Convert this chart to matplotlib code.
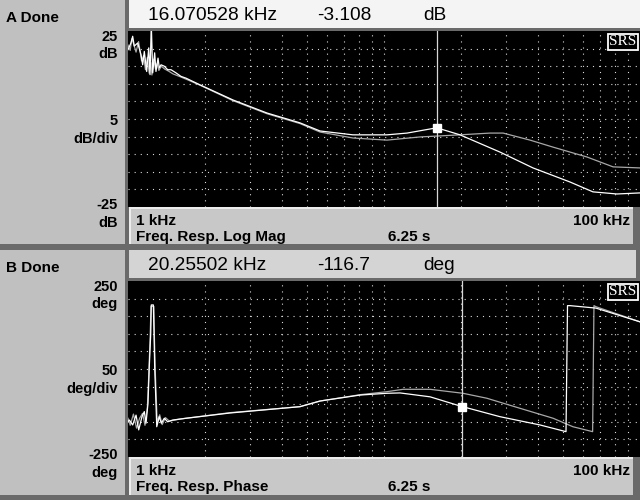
import numpy as np
import matplotlib.pyplot as plt
from matplotlib.patches import Rectangle

# trace A: Freq. Resp. Log Mag (dB), live trace (white) and reference trace (grey)
mag_freq_live = [1.0, 1.027, 1.043, 1.058, 1.091, 1.124, 1.141, 1.158, 1.183, 1.205, 1.219, 1.233,
                 1.249, 1.271, 1.286, 1.310, 1.325, 1.346, 1.386, 1.429, 1.472, 1.540, 1.611, 1.685,
                 1.911, 2.572, 3.490, 4.697, 5.623, 7.56, 10.27, 12.30, 16.07, 19.81, 28.39, 38.2,
                 53.3, 65.5, 81.3, 100.0]
mag_live = [19.7, 21.6, 23.5, 20.7, 21.6, 18.3, 15.4, 19.2, 13.5, 20.2, 12.6, 27.0,
            13.1, 18.8, 13.5, 17.3, 14.5, 15.4, 15.0, 14.0, 14.0, 13.1, 12.1, 11.6,
            9.7, 5.4, 1.7, -1.1, -3.4, -4.5, -4.5, -4.0, -2.5, -4.5, -9.4, -13.9,
            -17.9, -20.7, -21.3, -21.0]

mag_freq_ref = [1.0, 1.02, 1.035, 1.05, 1.075, 1.10, 1.13, 1.15, 1.17, 1.19, 1.21, 1.228,
                1.24, 1.26, 1.28, 1.30, 1.32, 1.35, 1.39, 1.44, 1.50, 1.60, 1.70, 1.911,
                2.572, 3.490, 4.697, 5.623, 7.56, 10.27, 13.82, 19.81, 25.94, 29.2, 37.2,
                45.8, 62.1, 78.5, 100.0]
mag_ref = [21.0, 19.5, 22.8, 21.5, 19.0, 22.0, 16.5, 18.0, 14.0, 17.5, 13.0, 16.0,
           12.5, 17.0, 14.2, 15.8, 13.8, 15.0, 14.2, 13.6, 12.8, 12.0, 11.2, 9.6,
           5.2, 1.5, -1.3, -3.7, -5.4, -6.0, -5.1, -4.5, -4.0, -4.0, -6.0,
           -8.0, -10.8, -13.6, -13.9]

# trace B: Freq. Resp. Phase (deg)
phase_freq_live = [1.0, 1.012, 1.043, 1.075, 1.101, 1.134, 1.158, 1.176, 1.197, 1.211, 1.227, 1.233,
                   1.256, 1.264, 1.271, 1.286, 1.295, 1.325, 1.349, 1.386, 1.429, 1.495, 1.685,
                   2.503, 4.697, 5.623, 8.06, 10.27, 11.55, 15.13, 19.81, 28.39, 40.7, 51.4,
                   52.1, 53.3, 67.3, 100.0]
phase_live = [-150, -145, -159, -131, -173, -135.5, -121, -154, -97.5, 6.5, 101, 182,
              182, 101, 6.5, -97.5, -164, -135.5, -154, -140, -150, -145, -140,
              -125, -107, -91, -74, -69, -68, -79, -105, -135.5, -159, -178,
              180, 180, 173, 134]

phase_freq_ref = [1.0, 1.02, 1.05, 1.08, 1.11, 1.14, 1.165, 1.19, 1.205, 1.22, 1.23, 1.262,
                  1.268, 1.28, 1.30, 1.33, 1.36, 1.40, 1.45, 1.60, 2.503, 4.697, 5.623, 8.06,
                  10.24, 11.87, 15.13, 20.35, 25.2, 34.0, 45.8, 54.7, 65.3, 66.1, 67.3, 100.0]
phase_ref = [-140, -160, -128, -168, -140, -126, -160, -110, -20, 90, 178, 178,
             90, -20, -150, -130, -158, -138, -148, -142, -124, -107, -91, -73,
             -64.5, -57.7, -57.7, -69, -83, -111.7, -140, -164, -178, 180, 177, 134]

marker_a_freq, marker_a_val = 16.070528, -3.108
marker_b_freq, marker_b_val = 20.25502, -116.7

W, H = 640, 500
fig = plt.figure(figsize=(6.4, 5), dpi=100)
plt.rcParams['font.family'] = ['Liberation Sans', 'DejaVu Sans']

bg = fig.add_axes([0, 0, 1, 1])
bg.set_xlim(0, W)
bg.set_ylim(H, 0)
bg.axis('off')

def rect(x0, y0, x1, y1, color):
    bg.add_patch(Rectangle((x0, y0), x1 - x0, y1 - y0, facecolor=color, edgecolor='none'))

DITHER = '#6a6a6a'
rect(0, 0, W, H, '#c0c0c0')

def panel_frame(dy, header_color):
    # header
    rect(129, dy, 636 if dy else W, dy + 28, header_color)
    rect(129, dy + 28, W, dy + 31, DITHER)
    # footer with bevel
    rect(129, dy + 207, 633, dy + 245, '#c8c8c8')
    rect(129, dy + 207, 633, dy + 209, '#ececec')
    rect(129, dy + 207, 131, dy + 245, '#ececec')
    rect(633, dy + 207, W, dy + 245, DITHER)
    rect(125, dy, 129, dy + 245, DITHER)

panel_frame(0, '#f4f4f4')
rect(0, 244, W, 250, DITHER)
rect(129, 250, W, 253, '#e4e4e4')
panel_frame(250, '#d4d4d4')
rect(636, 250, W, 281, DITHER)
rect(0, 495, W, H, DITHER)

def px_box(x0, y0, x1, y1):
    return [x0 / W, 1 - y1 / H, (x1 - x0) / W, (y1 - y0) / H]

grid_x = [2, 3, 4, 5, 6, 7, 8, 9, 10, 20, 30, 40, 50, 60, 70, 80, 90]

def trace_axes(y0, lo, hi):
    ax = fig.add_axes(px_box(128, y0, 640, y0 + 176))
    ax.set_facecolor('black')
    ax.set_xscale('log')
    ax.set_xlim(1, 100)
    ax.set_ylim(lo, hi)
    ax.set_xticks([])
    ax.set_yticks([])
    ax.minorticks_off()
    for s in ax.spines.values():
        s.set_visible(False)
    step = (hi - lo) / 10
    for gx in grid_x:
        ax.axvline(gx, color='#d8d8d8', lw=0.8, ls=(0, (1, 4.5)))
    for gy in np.arange(lo + step, hi, step):
        ax.axhline(gy, color='#d8d8d8', lw=0.8, ls=(0, (1, 4.5)))
    ax.text(0.993, 0.975, 'SRS', transform=ax.transAxes, ha='right', va='top',
            color='white', fontsize=11, family='Liberation Serif',
            bbox=dict(boxstyle='square,pad=0.1', facecolor='black', edgecolor='white', lw=1.3))
    return ax

def draw_marker(ax, freq, fx, vals):
    y = np.interp(np.log10(freq), np.log10(fx), vals)
    ax.axvline(freq, color='#d8d8d8', lw=0.9)
    ax.plot([freq], [y], 's', color='white', ms=5.5, mec='white')

ax_a = trace_axes(31, -25, 25)
ax_a.plot(mag_freq_ref, mag_ref, color='#a8a8a8', lw=0.9)
ax_a.plot(mag_freq_live, mag_live, color='white', lw=0.9)
draw_marker(ax_a, marker_a_freq, mag_freq_live, mag_live)

ax_b = trace_axes(281, -250, 250)
ax_b.plot(phase_freq_ref, phase_ref, color='#a8a8a8', lw=0.9)
ax_b.plot(phase_freq_live, phase_live, color='white', lw=0.9)
draw_marker(ax_b, marker_b_freq, phase_freq_live, phase_live)

def panel_text(dy, name, freq, val, unit, top, per, bot, yunit, meas):
    bg.text(6, dy + 18, name, fontsize=11, fontweight='bold', va='center')
    bg.text(148, dy + 15, f'{freq} kHz', fontsize=13.8, va='center')
    bg.text(317, dy + 15, val, fontsize=13.8, va='center')
    bg.text(423, dy + 15, unit, fontsize=13.8, va='center')
    for yy, s in [(37, top), (54, yunit), (121, per), (139, yunit + '/div'),
                  (205, bot), (223, yunit)]:
        bg.text(118, dy + yy, s, fontsize=10.5, fontweight='bold', ha='right', va='center')
    bg.text(136, dy + 221, '1 kHz', fontsize=11, fontweight='bold', va='center')
    bg.text(630, dy + 221, '100 kHz', fontsize=11, fontweight='bold', ha='right', va='center')
    bg.text(136, dy + 237, meas, fontsize=11, fontweight='bold', va='center')
    bg.text(388, dy + 237, '6.25 s', fontsize=11, fontweight='bold', va='center')

panel_text(0, 'A Done', f'{marker_a_freq:.6f}', f'{marker_a_val:.3f}', 'dB',
           '25', '5', '-25', 'dB', 'Freq. Resp. Log Mag')
panel_text(250, 'B Done', f'{marker_b_freq:.5f}', f'{marker_b_val:.1f}', 'deg',
           '250', '50', '-250', 'deg', 'Freq. Resp. Phase')

fig.savefig('out.png', dpi=100)
